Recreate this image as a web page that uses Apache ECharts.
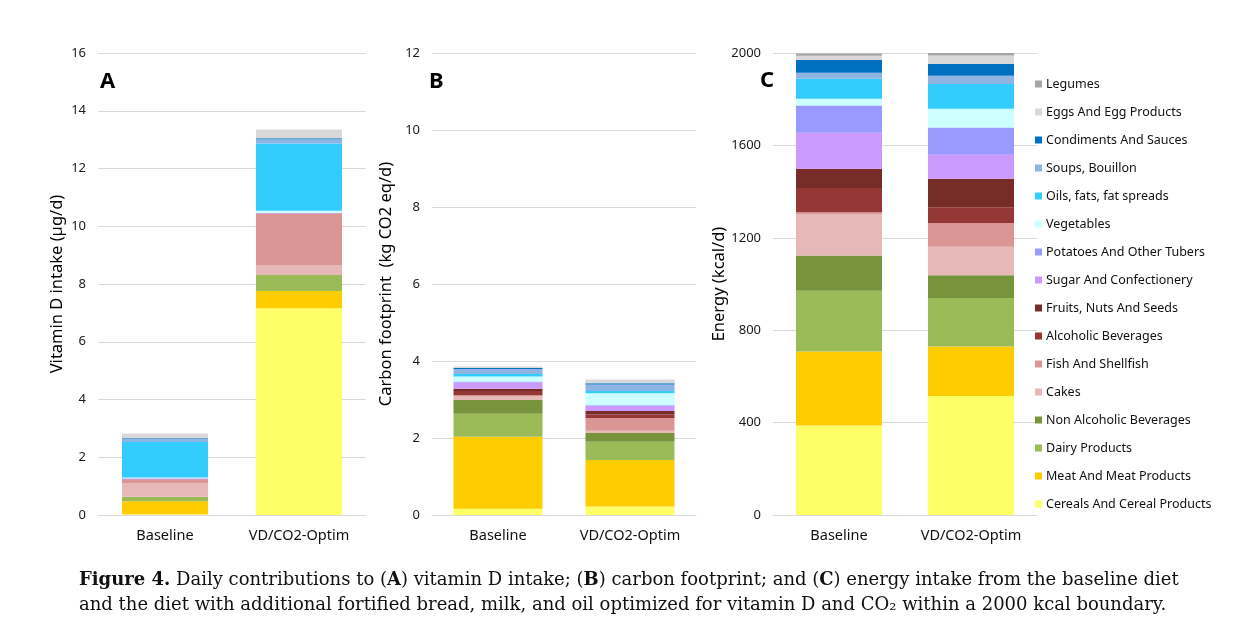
<!DOCTYPE html>
<html>
<head>
<meta charset="utf-8">
<title>Figure 4</title>
<script src="https://cdn.jsdelivr.net/npm/echarts@6/dist/echarts.min.js"></script>
<style>
  html, body { margin: 0; padding: 0; background: #fff; }
  #chart { width: 1234px; height: 629px; }
</style>
</head>
<body>
<div id="chart"></div>
<script>
// categories on the x axis
var diets = ['Baseline', 'VD/CO2-Optim'];

// food groups, bottom of the stack first
var foodGroups = [
  'Cereals And Cereal Products', 'Meat And Meat Products', 'Dairy Products',
  'Non Alcoholic Beverages', 'Cakes', 'Fish And Shellfish', 'Alcoholic Beverages',
  'Fruits, Nuts And Seeds', 'Sugar And Confectionery', 'Potatoes And Other Tubers',
  'Vegetables', 'Oils, fats, fat spreads', 'Soups, Bouillon', 'Condiments And Sauces',
  'Eggs And Egg Products', 'Legumes'
];
var groupColors = [
  '#FFFF66', '#FFCC00', '#9BBB59', '#77933C', '#E6B9B8', '#D99694', '#953735',
  '#772C2A', '#CC99FF', '#9999FF', '#CCFFFF', '#33CCFF', '#8EB4E3', '#0070C0',
  '#D9D9D9', '#A6A6A6'
];

// A: vitamin D intake (µg/d)
var vitDBaseline = [0.03, 0.45, 0.15, 0, 0.46, 0.14, 0, 0.01, 0.02, 0.01, 0.03, 1.23, 0.1, 0.03, 0.16, 0];
var vitDOptim    = [7.16, 0.6, 0.55, 0, 0.33, 1.79, 0, 0.01, 0.02, 0.01, 0.07, 2.33, 0.14, 0.04, 0.3, 0];

// B: carbon footprint (kg CO2 eq/d)
var co2Baseline = [0.16, 1.87, 0.6, 0.36, 0.1, 0.02, 0.11, 0.06, 0.16, 0.03, 0.13, 0.06, 0.13, 0.03, 0.04, 0];
var co2Optim    = [0.22, 1.21, 0.47, 0.23, 0.06, 0.33, 0.09, 0.09, 0.13, 0.02, 0.31, 0.06, 0.17, 0.03, 0.1, 0];

// C: energy (kcal/d)
var kcalBaseline = [387, 321, 263, 152, 180, 8, 105, 83, 156, 118, 29, 86, 27, 55, 18, 10];
var kcalOptim    = [515, 214, 210, 99, 123, 103, 68, 124, 104, 118, 81, 107, 36, 52, 35, 11];

var myChart = echarts.init(document.getElementById('chart'));

var gridLineColor = '#D9D9D9';

function makeX(idx) {
  return {
    type: 'category', gridIndex: idx, data: diets,
    axisLine: { lineStyle: { color: gridLineColor } },
    axisTick: { show: false },
    axisLabel: { color: '#111', fontSize: 14.5, fontFamily: 'Noto Sans', margin: 13 }
  };
}
function makeY(idx, max, interval, name, gap) {
  return {
    type: 'value', gridIndex: idx, min: 0, max: max, interval: interval,
    name: name, nameLocation: 'middle', nameGap: gap,
    nameTextStyle: { color: '#000', fontSize: 16.5, fontFamily: 'Noto Sans' },
    axisLine: { show: false }, axisTick: { show: false },
    axisLabel: {
      color: '#1a1a1a', fontSize: 13, fontFamily: 'Noto Sans', margin: 12,
      formatter: function (v) { return String(v); }
    },
    splitLine: { lineStyle: { color: gridLineColor } }
  };
}

var panels = [
  [vitDBaseline, vitDOptim, 'A'],
  [co2Baseline, co2Optim, 'B'],
  [kcalBaseline, kcalOptim, 'C']
];
var series = [];
panels.forEach(function (p, pi) {
  foodGroups.forEach(function (g, gi) {
    series.push({
      name: g, type: 'bar', stack: p[2],
      xAxisIndex: pi, yAxisIndex: pi,
      barWidth: pi === 1 ? 89 : 86,
      itemStyle: { color: groupColors[gi] },
      emphasis: { disabled: true },
      data: [p[0][gi], p[1][gi]]
    });
  });
});

var captionFont = 'DejaVu Serif';
myChart.setOption({
  animation: false,
  backgroundColor: '#fff',
  grid: [
    { left: 98, top: 53, width: 268, height: 462 },
    { left: 432, top: 53, width: 264, height: 462 },
    { left: 773, top: 53, width: 264, height: 462 }
  ],
  xAxis: [makeX(0), makeX(1), makeX(2)],
  yAxis: [
    makeY(0, 16, 2, 'Vitamin D intake (µg/d)', 32),
    makeY(1, 12, 2, 'Carbon footprint  (kg CO2 eq/d)', 37),
    makeY(2, 2000, 400, 'Energy (kcal/d)', 45)
  ],
  legend: {
    orient: 'vertical', left: 1030, top: 71,
    data: foodGroups.slice().reverse(),
    icon: 'rect', itemWidth: 7, itemHeight: 7, itemGap: 12,
    selectedMode: false,
    textStyle: { color: '#111', fontSize: 12.5, fontFamily: 'Noto Sans', lineHeight: 16, padding: [0, 0, 0, -1] }
  },
  graphic: [
    { type: 'text', left: 100, top: 71, style: { text: 'A', font: 'bold 22px "Noto Sans"', fill: '#000' } },
    { type: 'text', left: 429, top: 71, style: { text: 'B', font: 'bold 22px "Noto Sans"', fill: '#000' } },
    { type: 'text', left: 760, top: 70, style: { text: 'C', font: 'bold 22px "Noto Sans"', fill: '#000' } },
    {
      type: 'text', left: 79, top: 571,
      style: {
        text: '{b|Figure 4.} Daily contributions to ({b|A}) vitamin D intake; ({b|B}) carbon footprint; and ({b|C}) energy intake from the baseline diet',
        fontFamily: captionFont, fontSize: 18, fill: '#111',
        rich: { b: { fontFamily: captionFont, fontSize: 18, fontWeight: 'bold', fill: '#111' } }
      }
    },
    {
      type: 'text', left: 79, top: 596,
      style: {
        text: 'and the diet with additional fortified bread, milk, and oil optimized for vitamin D and CO\u2082 within a 2000 kcal boundary.',
        fontFamily: captionFont, fontSize: 18, fill: '#111'
      }
    }
  ],
  series: series
});
</script>
</body>
</html>
